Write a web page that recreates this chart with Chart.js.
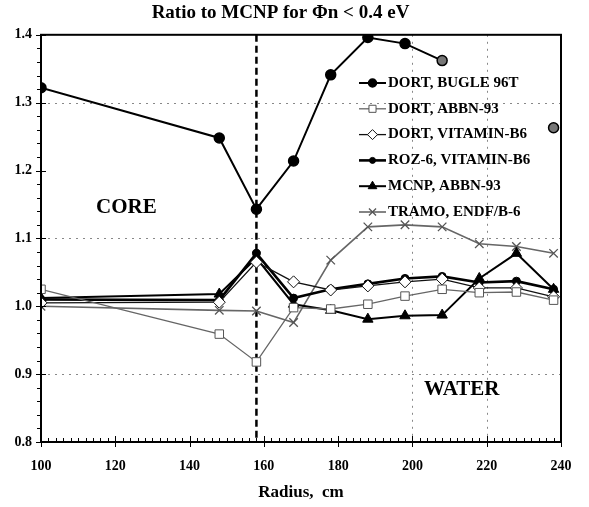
<!DOCTYPE html>
<html>
<head>
<meta charset="utf-8">
<script src="https://cdn.jsdelivr.net/npm/chart.js@4.4.1/dist/chart.umd.min.js"></script>
<style>
  html, body { margin: 0; padding: 0; background: #fff; }
  #wrap { width: 589px; height: 507px; }
</style>
</head>
<body>
<div id="wrap"><canvas id="ratioChart" width="589" height="507"></canvas></div>
<script>
// radius of each calculation point, cm
const radius = [100, 148, 158, 168, 178, 188, 198, 208, 218, 228, 238];

// ratio to MCNP, thermal flux (< 0.4 eV)
const dortBugle    = [1.322, 1.248, 1.143, 1.214, 1.341, 1.396, 1.387, 1.362, null, null, 1.263];
const dortAbbn     = [1.025, 0.959, 0.918, 0.998, 0.996, 1.003, 1.015, 1.025, 1.020, 1.021, 1.009];
const dortVitamin  = [1.005, 1.006, 1.065, 1.036, 1.024, 1.030, 1.036, 1.040, 1.027, 1.027, 1.014];
const rozVitamin   = [1.010, 1.009, 1.078, 1.012, 1.025, 1.033, 1.041, 1.044, 1.035, 1.037, 1.025];
const mcnpAbbn     = [1.012, 1.018, 1.071, 1.003, 0.994, 0.981, 0.986, 0.987, 1.041, 1.078, 1.025];
const tramoEndf    = [1.000, 0.994, 0.993, 0.976, 1.068, 1.117, 1.120, 1.117, 1.092, 1.088, 1.078];

const seriesNames = ["DORT, BUGLE 96T", "DORT, ABBN-93", "DORT, VITAMIN-B6",
                     "ROZ-6, VITAMIN-B6", "MCNP, ABBN-93", "TRAMO, ENDF/B-6"];

const yTicks = [0.8, 0.9, 1.0, 1.1, 1.2, 1.3, 1.4];
const xTicks = [100, 120, 140, 160, 180, 200, 220, 240];
const gridY = [0.9, 1.1, 1.3];
const gridX = [200, 220];
const boundary = 158; // core / water interface

const serif = "'Liberation Serif', 'DejaVu Serif', serif";

function toPoints(vals) {
    return radius.map((r, i) => ({ x: r, y: vals[i] }));
}

const datasets = [
    {
        label: seriesNames[0], data: toPoints(dortBugle),
        borderColor: '#000', borderWidth: 2, spanGaps: false,
        pointStyle: 'circle', pointRadius: 5,
        pointBackgroundColor: ['#000', '#000', '#000', '#000', '#000', '#000', '#000', '#777', '#000', '#000', '#777'],
        pointBorderColor: '#000', pointBorderWidth: 1.5
    },
    {
        label: seriesNames[1], data: toPoints(dortAbbn),
        borderColor: '#666', borderWidth: 1.3,
        pointStyle: 'rect', pointRadius: 6,
        pointBackgroundColor: '#fff', pointBorderColor: '#555', pointBorderWidth: 1
    },
    {
        label: seriesNames[2], data: toPoints(dortVitamin),
        borderColor: '#111', borderWidth: 1.3,
        pointStyle: 'rectRot', pointRadius: 6,
        pointBackgroundColor: '#fff', pointBorderColor: '#111', pointBorderWidth: 1
    },
    {
        label: seriesNames[3], data: toPoints(rozVitamin),
        borderColor: '#000', borderWidth: 2.6,
        pointStyle: 'circle', pointRadius: 4,
        pointBackgroundColor: '#000', pointBorderColor: '#000', pointBorderWidth: 1
    },
    {
        label: seriesNames[4], data: toPoints(mcnpAbbn),
        borderColor: '#000', borderWidth: 2,
        pointStyle: 'triangle', pointRadius: 6,
        pointBackgroundColor: '#000', pointBorderColor: '#000', pointBorderWidth: 1
    },
    {
        label: seriesNames[5], data: toPoints(tramoEndf),
        borderColor: '#666', borderWidth: 1.6,
        pointStyle: 'crossRot', pointRadius: 6,
        pointBackgroundColor: '#fff', pointBorderColor: '#555', pointBorderWidth: 1.3
    }
];

// dotted grid, heavy dashed core boundary, ticks, frame, labels and legend
const backdrop = {
    id: 'backdrop',
    beforeDatasetsDraw(chart) {
        const { ctx, chartArea: a, scales: { x, y } } = chart;
        ctx.save();
        ctx.strokeStyle = '#888';
        ctx.lineWidth = 1;
        ctx.setLineDash([2, 5]);
        gridY.forEach(v => {
            const py = Math.round(y.getPixelForValue(v)) + 0.5;
            ctx.beginPath(); ctx.moveTo(a.left, py); ctx.lineTo(a.right, py); ctx.stroke();
        });
        gridX.forEach(v => {
            const px = Math.round(x.getPixelForValue(v)) + 0.5;
            ctx.beginPath(); ctx.moveTo(px, a.top); ctx.lineTo(px, a.bottom); ctx.stroke();
        });
        ctx.strokeStyle = '#000';
        ctx.lineWidth = 2.5;
        ctx.setLineDash([7, 4]);
        const bx = x.getPixelForValue(boundary);
        ctx.beginPath(); ctx.moveTo(bx, a.top); ctx.lineTo(bx, a.bottom); ctx.stroke();
        ctx.restore();
    },
    afterDatasetsDraw(chart) {
        const { ctx, chartArea: a, scales: { x, y } } = chart;
        ctx.save();
        ctx.strokeStyle = '#000';
        ctx.setLineDash([]);
        ctx.lineWidth = 1;
        for (let v = 100; v <= 240; v += 2) {
            const px = Math.round(x.getPixelForValue(v)) + 0.5;
            const major = v % 20 === 0;
            ctx.beginPath();
            ctx.moveTo(px, a.bottom + (major ? 5 : 0));
            ctx.lineTo(px, a.bottom - (major ? 6 : 4));
            ctx.stroke();
        }
        for (let i = 0; i <= 30; i++) {
            const v = 0.8 + i * 0.02;
            const py = Math.round(y.getPixelForValue(v)) + 0.5;
            const major = i % 5 === 0;
            ctx.beginPath();
            ctx.moveTo(a.left - (major ? 5 : 4), py);
            ctx.lineTo(a.left + (major ? 5 : 0), py);
            ctx.stroke();
        }
        ctx.lineWidth = 2;
        ctx.strokeRect(a.left, a.top, a.right - a.left, a.bottom - a.top);
        ctx.restore();
    },
    afterDraw(chart) {
        const { ctx } = chart;
        ctx.save();
        ctx.fillStyle = '#000';
        ctx.textBaseline = 'middle';
        ctx.font = 'bold 21px ' + serif;
        ctx.fillText('CORE', 96, 208);
        ctx.font = 'bold 21px ' + serif;
        ctx.fillText('WATER', 424, 390);

        // legend: line sample with marker, then name
        const lx0 = 359, lx1 = 386, ly0 = 83, step = 25.8;
        chart.data.datasets.forEach((ds, i) => {
            const ly = ly0 + i * step;
            ctx.save();
            ctx.strokeStyle = ds.borderColor;
            ctx.lineWidth = ds.borderWidth;
            ctx.beginPath(); ctx.moveTo(lx0, ly); ctx.lineTo(lx1, ly); ctx.stroke();
            ctx.lineWidth = ds.pointBorderWidth;
            ctx.strokeStyle = ds.pointBorderColor;
            ctx.fillStyle = Array.isArray(ds.pointBackgroundColor) ? ds.pointBackgroundColor[0] : ds.pointBackgroundColor;
            Chart.helpers.drawPoint(ctx, { pointStyle: ds.pointStyle, radius: ds.pointRadius - 1, rotation: 0, borderWidth: ds.pointBorderWidth }, (lx0 + lx1) / 2, ly);
            ctx.restore();
            ctx.font = 'bold 15px ' + serif;
            ctx.fillStyle = '#000';
            ctx.fillText(ds.label, 388, ly);
        });
        ctx.restore();
    }
};

const ctx = document.getElementById('ratioChart').getContext('2d');
const chart = new Chart(ctx, {
    type: 'line',
    data: { datasets: datasets },
    options: {
        responsive: false,
        animation: false,
        layout: { padding: { left: 0, right: 28, top: 0, bottom: 0 } },
        plugins: {
            legend: { display: false },
            tooltip: { enabled: false },
            title: {
                display: true,
                text: 'Ratio to MCNP for \u03A6n < 0.4 eV',
                color: '#000',
                font: { family: serif, size: 19, weight: 'bold', lineHeight: 1.2 },
                padding: { top: 2, bottom: 10 }
            }
        },
        scales: {
            x: {
                type: 'linear', min: 100, max: 240,
                afterFit(scale) { scale.height = 65; },
                afterBuildTicks(scale) { scale.ticks = xTicks.map(v => ({ value: v })); },
                grid: { display: false, drawTicks: false },
                border: { display: false },
                ticks: {
                    color: '#000', padding: 16, maxRotation: 0,
                    font: { family: serif, size: 14, weight: 'bold' }
                },
                title: {
                    display: true, text: 'Radius,  cm', color: '#000',
                    font: { family: serif, size: 17, weight: 'bold' },
                    padding: { top: 0, bottom: 4 }
                }
            },
            y: {
                min: 0.8, max: 1.4,
                afterFit(scale) { scale.width = 41; },
                afterBuildTicks(scale) { scale.ticks = yTicks.map(v => ({ value: v })); },
                grid: { display: false, drawTicks: false },
                border: { display: false },
                ticks: {
                    color: '#000', padding: 9,
                    font: { family: serif, size: 14, weight: 'bold' },
                    callback: v => v.toFixed(1)
                }
            }
        }
    },
    plugins: [backdrop]
});
</script>
</body>
</html>
